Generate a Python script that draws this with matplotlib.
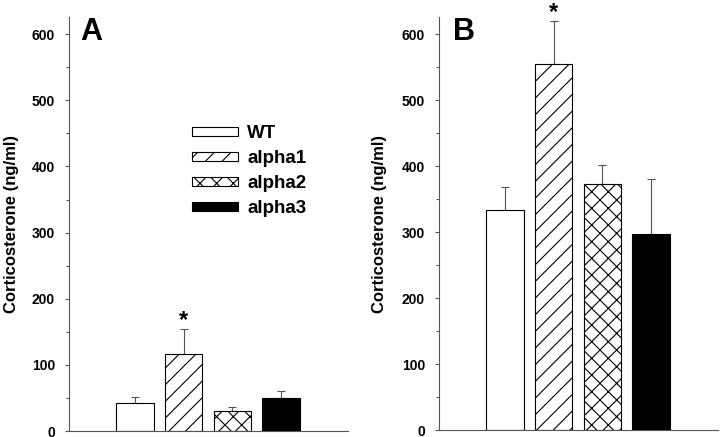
import matplotlib
matplotlib.use("Agg")
import matplotlib.pyplot as plt
from matplotlib.ticker import MultipleLocator

plt.rcParams['font.family'] = ['Liberation Sans', 'DejaVu Sans']
plt.rcParams['font.weight'] = 'bold'
plt.rcParams['hatch.linewidth'] = 0.8

# data (ng/ml)
groups = ["WT", "alpha1", "alpha2", "alpha3"]
mean_a = [43, 117, 30, 50]
sem_a = [9, 37, 6, 11]
mean_b = [333, 555, 373, 297]
sem_b = [35, 65, 29, 84]
hatches = ["", "//", "xx", ""]
faces = ["white", "white", "white", "black"]


def panel(ax, means, errs, letter, letter_x, label_x):
    x = range(len(means))
    bars = ax.bar(x, means, width=0.77, color=faces, edgecolor="black",
                  linewidth=0.8, hatch=hatches, label=groups, zorder=2)
    ax.errorbar(x, means, yerr=[[0] * len(errs), errs], fmt="none",
                ecolor="#555555", elinewidth=0.8, capsize=3, capthick=0.8, zorder=1)
    ax.set_xlim(-1.355, 4.375)
    ax.set_ylim(0, 626)
    ax.yaxis.set_major_locator(MultipleLocator(100))
    ax.yaxis.set_minor_locator(MultipleLocator(50))
    ax.set_xticks([])
    for s in ["top", "right"]:
        ax.spines[s].set_visible(False)
    for s in ["left", "bottom"]:
        ax.spines[s].set_color("#555555")
        ax.spines[s].set_linewidth(0.8)
    ax.tick_params(axis="y", which="major", length=3, width=0.8, color="#555555",
                   pad=7, labelsize=10)
    ax.tick_params(axis="y", which="minor", length=2, width=0.8, color="#555555")
    ax.set_ylabel("Corticosterone (ng/ml)", fontsize=12, fontweight="bold")
    ax.yaxis.set_label_coords(label_x, 0.5)
    ax.text(letter_x, 1.0, letter, transform=ax.transAxes, fontsize=22,
            fontweight="bold", va="top", ha="left")
    # significance marker above the alpha1 error bar
    ax.text(1, means[1] + errs[1] + 3, "*", fontsize=17, fontweight="bold",
            ha="center", va="baseline", clip_on=False)
    return bars


fig = plt.figure(figsize=(7.2, 4.37), dpi=100)
ax_a = fig.add_axes([0.0958, 0.0137, 0.3875, 0.9474])
ax_b = fig.add_axes([0.6097, 0.0160, 0.3875, 0.9450])

bars = panel(ax_a, mean_a, sem_a, "A", 0.039, -0.179)
panel(ax_b, mean_b, sem_b, "B", 0.05, -0.186)

ax_a.legend(bars.patches, groups, loc="upper left",
            bbox_to_anchor=(192 / 720, 1 - 125 / 437), bbox_transform=fig.transFigure,
            frameon=False, fontsize=13.5, handlelength=2.45, handleheight=0.32,
            handletextpad=0.5, labelspacing=0.43, borderpad=0, borderaxespad=0)

fig.savefig("out.png", dpi=100)
